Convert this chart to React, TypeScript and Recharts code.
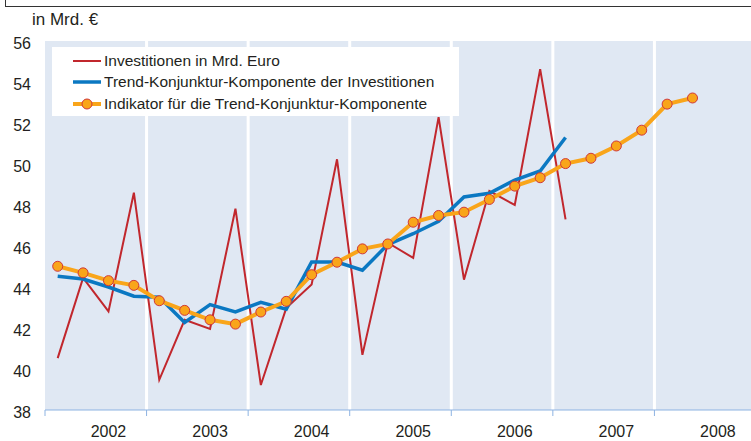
import { LineChart, Line, XAxis, YAxis, ReferenceArea, ReferenceLine, Legend } from 'recharts';

// quarterly values, Q1 2002 onwards
const investitionen = [40.53, 44.44, 42.81, 48.6, 39.47, 42.4, 41.95, 47.82, 39.22, 42.97, 44.12, 50.23, 40.69, 46.16, 45.42, 52.29, 44.36, 48.68, 48.0, 54.63, 47.3];
const trendKomponente = [44.52, 44.39, 44.0, 43.55, 43.5, 42.27, 43.14, 42.78, 43.25, 42.92, 45.22, 45.22, 44.82, 46.07, 46.6, 47.21, 48.39, 48.57, 49.22, 49.66, 51.29];
const indikator = [45.01, 44.69, 44.31, 44.08, 43.33, 42.86, 42.4, 42.19, 42.78, 43.3, 44.6, 45.21, 45.86, 46.1, 47.16, 47.49, 47.65, 48.27, 48.92, 49.33, 50.02, 50.28, 50.88, 51.65, 52.92, 53.22];

const years = ['2002', '2003', '2004', '2005', '2006', '2007', '2008'];
const yTicks = [38, 40, 42, 44, 46, 48, 50, 52, 54, 56];

const seriesNames = {
  inv: 'Investitionen in Mrd. Euro',
  trend: 'Trend-Konjunktur-Komponente der Investitionen',
  ind: 'Indikator für die Trend-Konjunktur-Komponente',
};

const RED = '#c1272d';
const BLUE = '#0b78c2';
const ORANGE = '#f9a51a';
const DOT_STROKE = '#d0373a';
const BG = '#e0e8f3';
const TEXT = '#231f20';
const FONT = 'Liberation Sans, Arial, sans-serif';

const quarterCount = years.length * 4;
const data = Array.from({ length: indikator.length }, (_, i) => ({
  q: i + 0.5,
  inv: investitionen[i] ?? null,
  trend: trendKomponente[i] ?? null,
  ind: indikator[i] ?? null,
}));

// year labels sit a bit right of the year's middle in the original
const LABEL_POS = 2.5;
const boundaries = years.map((_, i) => i * 4);
const xTicks = [...boundaries.flatMap((b) => [b, b + LABEL_POS]), quarterCount];

const YTick = (props: any) => {
  const { x, y, payload } = props;
  return (
    <text x={x} y={y + 8} textAnchor="end" fontSize={16} fill={TEXT} fontFamily={FONT}>
      {payload.value}
    </text>
  );
};

const XTick = (props: any) => {
  const { x, y, payload } = props;
  const v = payload.value as number;
  if (v % 4 === 0) {
    return <line x1={x} x2={x} y1={y} y2={y + 6} stroke="#8db3e2" strokeWidth={1} />;
  }
  return (
    <text x={x} y={y + 27} textAnchor="middle" fontSize={16} fill={TEXT} fontFamily={FONT}>
      {years[(v - LABEL_POS) / 4]}
    </text>
  );
};

const LegendBox = () => {
  const rows = [
    { key: 'inv', color: RED, width: 2, dot: false },
    { key: 'trend', color: BLUE, width: 3.5, dot: false },
    { key: 'ind', color: ORANGE, width: 4, dot: true },
  ] as const;
  return (
    <div style={{ padding: '3px 0 0 21px' }}>
      {rows.map((r) => (
        <div key={r.key} style={{ display: 'flex', alignItems: 'center', height: 21.5 }}>
          <svg width={28} height={12} style={{ marginRight: 3 }}>
            <line x1={0} x2={28} y1={6} y2={6} stroke={r.color} strokeWidth={r.width} />
            {r.dot && <circle cx={14} cy={6} r={5} fill={ORANGE} stroke={DOT_STROKE} strokeWidth={1} />}
          </svg>
          <span style={{ fontSize: 15.5, color: TEXT, fontFamily: FONT, whiteSpace: 'nowrap' }}>
            {seriesNames[r.key]}
          </span>
        </div>
      ))}
    </div>
  );
};

export default function App() {
  return (
    <div style={{ position: 'absolute', left: 0, top: 0, width: 751, height: 441, overflow: 'hidden', background: '#fff' }}>
      <div style={{ position: 'absolute', left: 4.5, top: -10, width: 800, height: 15, border: '1.5px solid #333' }} />
      <div style={{ position: 'absolute', left: 32, top: 10, fontSize: 17, color: TEXT, fontFamily: FONT }}>
        in Mrd. €
      </div>
      <LineChart width={756} height={441} data={data} margin={{ top: 41, right: 0, bottom: 0, left: 0 }}>
        <XAxis
          dataKey="q"
          type="number"
          domain={[0, quarterCount]}
          ticks={xTicks}
          interval={0}
          tick={<XTick />}
          tickLine={false}
          tickSize={0}
          tickMargin={0}
          height={31}
          axisLine={{ stroke: '#8db3e2', strokeWidth: 1 }}
        />
        <YAxis
          type="number"
          domain={[38, 56]}
          ticks={yTicks}
          interval={0}
          width={45}
          tick={<YTick />}
          tickLine={false}
          axisLine={false}
          tickMargin={8}
        />
        <ReferenceArea x1={0} x2={quarterCount} y1={38} y2={56} fill={BG} fillOpacity={1} stroke="none" />
        {boundaries.slice(1).map((b) => (
          <ReferenceLine key={b} x={b} stroke="#ffffff" strokeWidth={3} />
        ))}
        <Legend
          layout="vertical"
          align="center"
          verticalAlign="middle"
          content={<LegendBox />}
          wrapperStyle={{ left: 52, top: 47, width: 407, height: 69, background: '#fff' }}
        />
        <Line dataKey="inv" stroke={RED} strokeWidth={2} dot={false} isAnimationActive={false} />
        <Line dataKey="trend" stroke={BLUE} strokeWidth={3.5} dot={false} isAnimationActive={false} />
        <Line
          dataKey="ind"
          stroke={ORANGE}
          strokeWidth={4}
          dot={{ r: 5, fill: ORANGE, stroke: DOT_STROKE, strokeWidth: 1 }}
          isAnimationActive={false}
        />
      </LineChart>
    </div>
  );
}
